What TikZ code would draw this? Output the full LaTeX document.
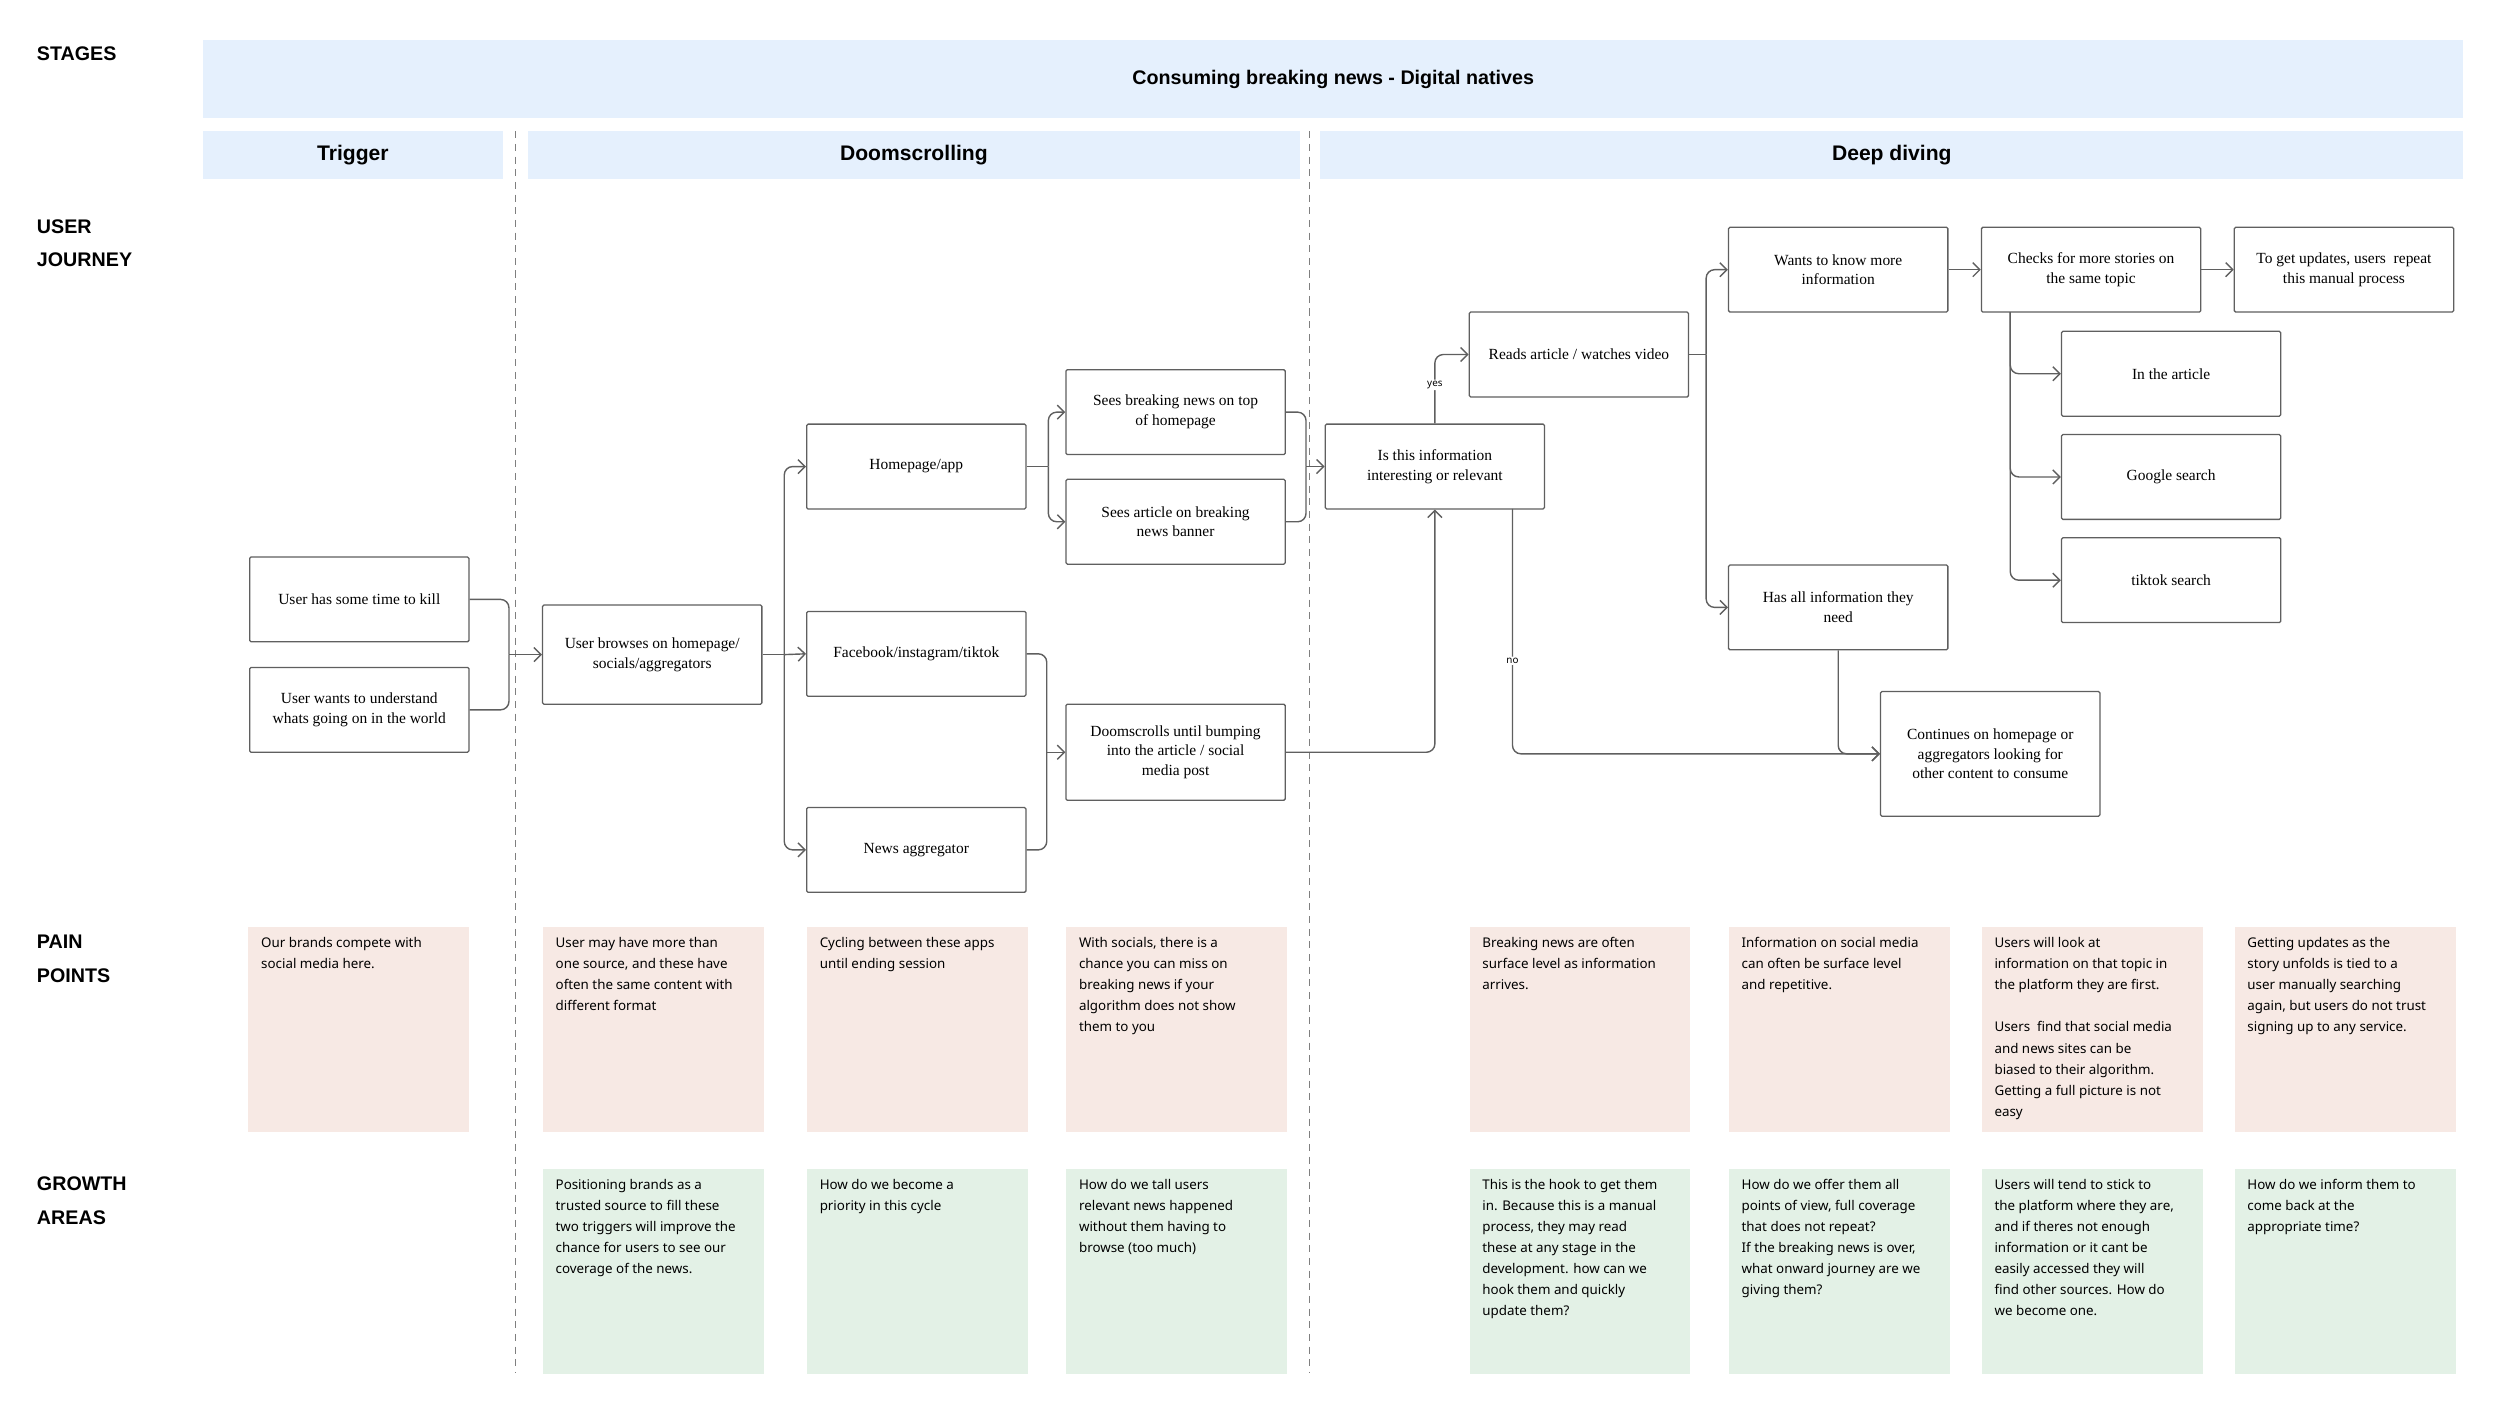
\documentclass[tikz,border=0pt]{standalone}
\usepackage{fontspec}
\setmainfont{Liberation Serif}
\newfontfamily\cardfont{Noto Sans}
\newfontfamily\headfont{Liberation Sans}
\usetikzlibrary{arrows.meta}
\definecolor{bannerblue}{HTML}{E5F0FD}
\definecolor{painpink}{HTML}{F7E9E4}
\definecolor{growgreen}{HTML}{E3F1E6}
\definecolor{linegray}{HTML}{5F5F5F}

\begin{document}
\begin{tikzpicture}[x=0.04cm,y=-0.04cm,
  stepbox/.style={draw=linegray,line width=0.9pt,rounded corners=1pt,fill=white,
    minimum width=5.48cm,minimum height=2.12cm,align=center,font=\fontsize{11}{14}\selectfont},
  link/.style={draw=linegray,line width=1pt,rounded corners=6pt,-{Straight Barb[length=5pt,width=10pt]}},
  plain/.style={draw=linegray,line width=1pt,rounded corners=6pt},
  rowlabel/.style={anchor=north west,align=left,font=\headfont\bfseries\fontsize{14}{24}\selectfont},
  band/.style={fill=bannerblue,minimum height=1.2cm,font=\headfont\bfseries\fontsize{15}{18}\selectfont},
  paincard/.style={fill=painpink,anchor=north west,minimum width=5.52cm,minimum height=5.12cm,
    inner xsep=0.32cm,inner ysep=0.22cm,font=\cardfont\fontsize{9.5}{15}\selectfont,
    execute at begin node={\begin{minipage}[t][4.6cm][t]{4.88cm}\raggedright},
    execute at end node={\end{minipage}}},
  growcard/.style={paincard,fill=growgreen},
  tag/.style={font=\cardfont\fontsize{7}{8}\selectfont,fill=white,inner sep=1pt}]
  \useasboundingbox (0,0) rectangle (1562,878.75);

  % stage bands
  \node (stages) [rowlabel] at (20,26) {STAGES};
  \node (banner) [band,minimum width=56.48cm,minimum height=1.96cm,font=\headfont\bfseries\fontsize{14}{17}\selectfont] at (833,49.5) {Consuming breaking news - Digital natives};
  \node (trigger) [band,minimum width=7.48cm] at (220.5,97) {Trigger};
  \node (doom) [band,minimum width=19.28cm] at (571,97) {Doomscrolling};
  \node (deep) [band,minimum width=28.56cm] at (1182,97) {Deep diving};
  \coordinate (sepa) at (322,82);
  \coordinate (sepb) at (818,82);
  \draw[linegray!80,line width=0.8pt,dash pattern=on 5pt off 4pt] (sepa) -- ++(0,776);
  \draw[linegray!80,line width=0.8pt,dash pattern=on 5pt off 4pt] (sepb) -- ++(0,776);

  % user journey
  \node (journey) [rowlabel] at (20,134) {USER\\JOURNEY};
  \node (t1) [stepbox] at (224.5,374.5) {User has some time to kill};
  \node (t2) [stepbox] at (224.5,443.5) {User wants to understand\\whats going on in the world};
  \node (d1) [stepbox,minimum height=2.48cm] at (407.5,409) {User browses on homepage/\\socials/aggregators};
  \node (home) [stepbox] at (572.5,291.5) {Homepage/app};
  \node (social) [stepbox] at (572.5,408.5) {Facebook/instagram/tiktok};
  \node (aggr) [stepbox] at (572.5,531) {News aggregator};
  \node (seetop) [stepbox] at (734.5,257.5) {Sees breaking news on top\\of homepage};
  \node (seebanner) [stepbox] at (734.5,326) {Sees article on breaking\\news banner};
  \node (scroll) [stepbox,minimum height=2.4cm] at (734.5,470) {Doomscrolls until bumping\\into the article / social\\media post};
  \node (relevant) [stepbox] at (896.5,291.5) {Is this information\\interesting or relevant};
  \node (reads) [stepbox] at (986.5,221.5) {Reads article / watches video};
  \node (more) [stepbox] at (1148.5,168.5) {Wants to know more\\information};
  \node (checks) [stepbox] at (1306.5,168.5) {Checks for more stories on\\the same topic};
  \node (repeat) [stepbox] at (1464.5,168.5) {To get updates, users\ \ repeat\\this manual process};
  \node (inart) [stepbox] at (1356.5,233.5) {In the article};
  \node (google) [stepbox] at (1356.5,298) {Google search};
  \node (tiktok) [stepbox] at (1356.5,362.5) {tiktok search};
  \node (hasall) [stepbox] at (1148.5,379.5) {Has all information they\\need};
  \node (cont) [stepbox,minimum height=3.12cm] at (1243.5,471) {Continues on homepage or\\aggregators looking for\\other content to consume};

  \coordinate (jt) at (318,409);
  \coordinate (jd) at (490,409);
  \coordinate (jh) at (655,291.5);
  \coordinate (js) at (816,291.5);
  \coordinate (jf) at (654,470);
  \coordinate (jr) at (1066,221.5);
  \coordinate (qno) at (945,318);
  \coordinate (cb) at (1256,195);

  \draw[plain] (t1.east) -| (jt);
  \draw[plain] (t2.east) -| (jt);
  \draw[link] (jt) -- (d1.west);
  \draw[plain] (d1.east) -- (jd);
  \draw[link] (jd) |- (home.west);
  \draw[link] (jd) -- (social.west);
  \draw[link] (jd) |- (aggr.west);
  \draw[plain] (home.east) -- (jh);
  \draw[link] (jh) |- (seetop.west);
  \draw[link] (jh) |- (seebanner.west);
  \draw[plain] (seetop.east) -| (js);
  \draw[plain] (seebanner.east) -| (js);
  \draw[link] (js) -- (relevant.west);
  \draw[plain] (social.east) -| (jf);
  \draw[plain] (aggr.east) -| (jf);
  \draw[link] (jf) -- (scroll.west);
  \draw[link] (scroll.east) -| (relevant.south);
  \draw[link] (relevant.north) |- (reads.west) node[tag,pos=0.28] {yes};
  \draw[link] (qno) |- (cont.west) node[tag,pos=0.31] {no};
  \draw[plain] (reads.east) -- (jr);
  \draw[link] (jr) |- (more.west);
  \draw[link] (jr) |- (hasall.west);
  \draw[link] (more.east) -- (checks.west);
  \draw[link] (checks.east) -- (repeat.west);
  \draw[link] (cb) |- (inart.west);
  \draw[link] (cb) |- (google.west);
  \draw[link] (cb) |- (tiktok.west);
  \draw[link] (hasall.south) |- (cont.west);

  % pain points
  \node (painlbl) [rowlabel] at (20,581) {PAIN\\POINTS};
  \node (p1) [paincard] at (155,579) {Our brands compete with\\social media here.};
  \node (p2) [paincard] at (339,579) {User may have more than\\one source, and these have\\often the same content with\\different format};
  \node (p3) [paincard] at (504,579) {Cycling between these apps\\until ending session};
  \node (p4) [paincard] at (666,579) {With socials, there is a\\chance you can miss on\\breaking news if your\\algorithm does not show\\them to you};
  \node (p5) [paincard] at (918,579) {Breaking news are often\\surface level as information\\arrives.};
  \node (p6) [paincard] at (1080,579) {Information on social media\\can often be surface level\\and repetitive.};
  \node (p7) [paincard] at (1238,579) {Users will look at\\information on that topic in\\the platform they are first.\\[15pt]Users\ \ find that social media\\and news sites can be\\biased to their algorithm.\\Getting a full picture is not\\easy};
  \node (p8) [paincard] at (1396,579) {Getting updates as the\\story unfolds is tied to a\\user manually searching\\again, but users do not trust\\signing up to any service.};

  % growth areas
  \node (growlbl) [rowlabel] at (20,732) {GROWTH\\AREAS};
  \node (g2) [growcard] at (339,730) {Positioning brands as a\\trusted source to fill these\\two triggers will improve the\\chance for users to see our\\coverage of the news.};
  \node (g3) [growcard] at (504,730) {How do we become a\\priority in this cycle};
  \node (g4) [growcard] at (666,730) {How do we tall users\\relevant news happened\\without them having to\\browse (too much)};
  \node (g5) [growcard] at (918,730) {This is the hook to get them\\in. Because this is a manual\\process, they may read\\these at any stage in the\\development. how can we\\hook them and quickly\\update them?};
  \node (g6) [growcard] at (1080,730) {How do we offer them all\\points of view, full coverage\\that does not repeat?\\If the breaking news is over,\\what onward journey are we\\giving them?};
  \node (g7) [growcard] at (1238,730) {Users will tend to stick to\\the platform where they are,\\and if theres not enough\\information or it cant be\\easily accessed they will\\find other sources. How do\\we become one.};
  \node (g8) [growcard] at (1396,730) {How do we inform them to\\come back at the\\appropriate time?};
\end{tikzpicture}
\end{document}
